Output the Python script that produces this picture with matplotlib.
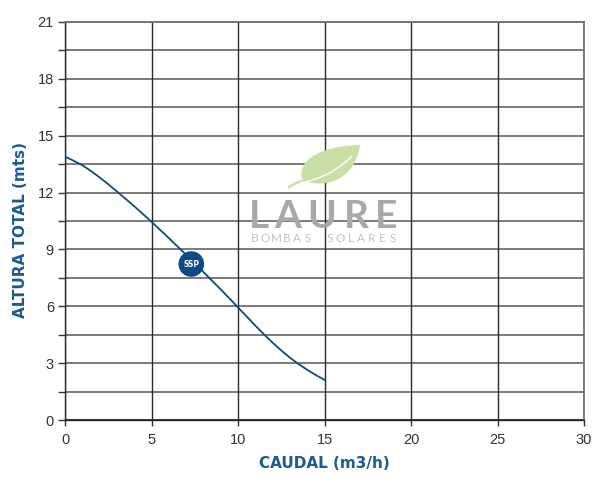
import matplotlib
matplotlib.use("Agg")
import matplotlib.pyplot as plt
import numpy as np
from matplotlib.path import Path
from matplotlib.patches import PathPatch
from matplotlib.transforms import Affine2D

# ---- data ----
caudal = [0, 0.5, 1, 1.5, 2, 2.5, 3, 3.5, 4, 4.5, 5, 5.5, 6, 6.5, 7, 7.5, 8,
          8.5, 9, 9.5, 10, 10.5, 11, 11.5, 12, 12.5, 13, 13.5, 14, 14.5, 15]
altura = [13.9, 13.68, 13.44, 13.14, 12.8, 12.44, 12.06, 11.67, 11.28, 10.87,
          10.46, 10.03, 9.6, 9.16, 8.72, 8.27, 7.81, 7.35, 6.89, 6.42, 5.94,
          5.46, 4.98, 4.52, 4.08, 3.67, 3.29, 2.95, 2.65, 2.37, 2.12]
ssp_point = (7.3, 8.23)
ssp_label = "SSP"
x_ticks = [0, 5, 10, 15, 20, 25, 30]
y_major = [0, 3, 6, 9, 12, 15, 18, 21]
y_minor = [1.5, 4.5, 7.5, 10.5, 13.5, 16.5, 19.5]
xlabel = "CAUDAL (m3/h)"
ylabel = "ALTURA TOTAL (mts)"
logo_title = "LAURE"
logo_sub = "BOMBAS SOLARES"

BLUE = "#0d4a85"
LABEL_BLUE = "#1c5a95"
LEAF = "#c9dfa6"

fig = plt.figure(figsize=(6.0, 4.86), dpi=100)
ax = fig.add_axes([65/600, 1-420/486, (584-65)/600, (420-22)/486])
ax.set_xlim(0, 30)
ax.set_ylim(0, 21)

# logo decoration in pixel coords (y down), drawn under the grid
pix = Affine2D().scale(1/100, -1/100).translate(0, 4.86) + fig.dpi_scale_trans
verts = [(303, 181), (295, 162), (318, 146), (360, 145),
         (357, 169), (338, 191), (303, 181), (303, 181)]
codes = [Path.MOVETO, Path.CURVE4, Path.CURVE4, Path.CURVE4,
         Path.CURVE4, Path.CURVE4, Path.CURVE4, Path.CLOSEPOLY]
fig.patches.append(PathPatch(Path(verts, codes), facecolor=LEAF, edgecolor="none",
                             transform=pix, zorder=0.5))
fig.patches.append(PathPatch(Path([(306, 181), (296, 181), (288, 188)],
                                  [Path.MOVETO, Path.CURVE3, Path.CURVE3]),
                             facecolor="none", edgecolor=LEAF, lw=1.8,
                             transform=pix, zorder=0.6))
fig.patches.append(PathPatch(Path([(300, 183), (330, 178), (352, 156)],
                                  [Path.MOVETO, Path.CURVE3, Path.CURVE3]),
                             facecolor="none", edgecolor="white", lw=1.0,
                             transform=pix, zorder=0.6))
for ch, cx in zip(logo_title, [259, 288, 322, 356, 386]):
    fig.text(cx/600, 1-228/486, ch, ha="center", va="baseline", fontsize=28,
             family="Lato", fontweight="bold", color="#a8a8a8", zorder=0.7)
xs = np.linspace(255, 393, len(logo_sub))
for ch, cx in zip(logo_sub, xs):
    fig.text(cx/600, 1-242.5/486, ch, ha="center", va="baseline", fontsize=8.5,
             family="Lato", color="#c2c2c2", zorder=0.7)
ax.patch.set_alpha(0)
fig.patch.set_facecolor("white")

# grid
for y in y_major + y_minor:
    ax.axhline(y, color="#6f6f6f", lw=1.3, zorder=1)
for x in x_ticks:
    ax.axvline(x, color="#2b2b2b", lw=1.0, zorder=1.1)
ax.axhline(0, color="#2b2b2b", lw=1.2, zorder=1.2)

# curve
ax.plot(caudal, altura, color=BLUE, lw=1.3, zorder=3)
ax.scatter([ssp_point[0]], [ssp_point[1]], s=340, color="#0b4a86", zorder=4,
           edgecolors="none")
ax.text(ssp_point[0], ssp_point[1], ssp_label, color="white", fontsize=5.5,
        ha="center", va="center", zorder=5, family="DejaVu Sans", fontweight="bold")

# ticks
ax.set_xticks(x_ticks)
ax.set_yticks(y_major)
ax.set_yticks(y_minor, minor=True)
ax.tick_params(axis="both", which="both", direction="out", length=5,
               color="#333333", width=1.0, labelsize=10.5, labelcolor="#333333")
ax.tick_params(axis="x", which="both", length=4, pad=5)
ax.tick_params(axis="y", pad=3)
for lab in ax.get_xticklabels() + ax.get_yticklabels():
    lab.set_family("Liberation Sans")

for s in ["top", "right"]:
    ax.spines[s].set_color("#6f6f6f")
    ax.spines[s].set_linewidth(1.3)
for s in ["left", "bottom"]:
    ax.spines[s].set_color("#2b2b2b")
    ax.spines[s].set_linewidth(1.0)

ax.set_xlabel(xlabel, color=LABEL_BLUE, fontsize=11, fontweight="bold",
              family="DejaVu Sans")
ax.set_ylabel(ylabel, color=LABEL_BLUE, fontsize=11, fontweight="bold",
              family="DejaVu Sans")
ax.xaxis.set_label_coords(0.5, -(456-420)/398)
ax.yaxis.set_label_coords(-(65-28)/519, (420-230)/398)

fig.savefig("out.png", dpi=100, facecolor="white")
